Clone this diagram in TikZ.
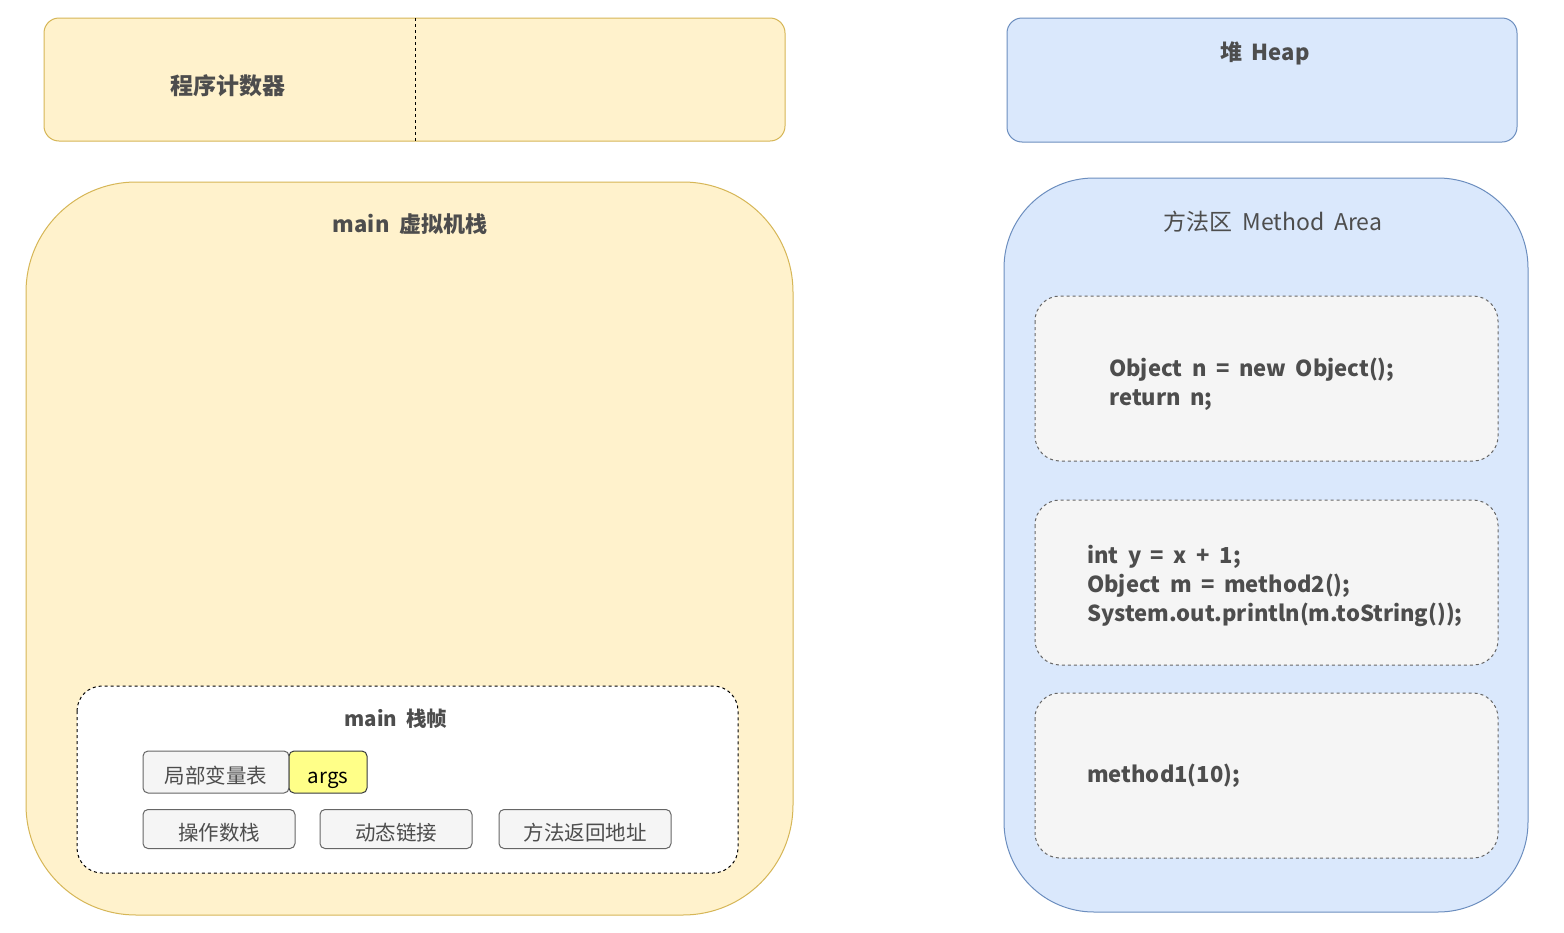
\documentclass[tikz,border=0pt]{standalone}
\usepackage{fontspec}
\setmainfont{Noto Sans CJK SC}
\newfontfamily\codefont{Noto Sans CJK SC}[WordSpace=1.9]
\usetikzlibrary{positioning}
\definecolor{ylfill}{HTML}{FFF2CC}
\definecolor{ylline}{HTML}{D6B656}
\definecolor{blfill}{HTML}{DAE8FC}
\definecolor{blline}{HTML}{6C8EBF}
\definecolor{gyfill}{HTML}{F5F5F5}
\definecolor{gyline}{HTML}{666666}
\definecolor{txt}{HTML}{4D4D4D}
\definecolor{argfill}{HTML}{FFFF88}
\definecolor{argline}{HTML}{36393D}
\tikzset{
  ybox/.style={fill=ylfill,draw=ylline,line width=1pt},
  bbox/.style={fill=blfill,draw=blline,line width=1pt},
  codebox/.style={fill=gyfill,draw=gyline,dashed,line width=1pt},
  cell/.style={fill=gyfill,draw=gyline,line width=1pt,rounded corners=5pt,inner sep=0pt,
    text=txt,font=\fontsize{20.5}{24}\selectfont,text height=24pt,text depth=1pt},
  lbl/.style={text=txt,inner sep=0pt},
  code/.style={text=txt,inner sep=0pt,align=left,font=\fontsize{22}{29}\codefont\bfseries},
}
\begin{document}
\begin{tikzpicture}[x=1pt,y=-1pt]
\useasboundingbox[fill=white] (0,0) rectangle (1564,932);
% program counter
\draw[ybox,rounded corners=15pt] (44,18) rectangle (785,141);
\coordinate (pctop) at (415,18);
\coordinate (pcbot) at (415,141);
\draw[dashed,line width=1pt] (pctop) -- (pcbot);
\node[lbl,font=\fontsize{23}{28}\selectfont\bfseries] (pc) at (228,86) {程序计数器};
% heap
\draw[bbox,rounded corners=15pt] (1007,18) rectangle (1517,142);
\node[lbl,font=\fontsize{22}{28}\codefont\bfseries] (heap) at (1265,53) {堆 Heap};
% vm stack
\draw[ybox,rounded corners=110pt] (26,182) rectangle (793,915);
\node[lbl,font=\fontsize{22}{28}\codefont\bfseries] (vms) at (410,224) {main 虚拟机栈};
% frame
\draw[fill=white,draw=black,dashed,line width=1pt,rounded corners=25pt] (77,686) rectangle (738,873);
\node[lbl,font=\fontsize{20.5}{26}\codefont\bfseries] (frame) at (396,719) {main 栈帧};
\node[cell,minimum width=146pt,minimum height=42pt] (lv) at (216,772) {局部变量表};
\node[cell,fill=argfill,draw=argline,minimum width=78pt,minimum height=42pt,text=black] (args) at (328,772) {args};
\node[cell,minimum width=152pt,minimum height=39pt] (ops) at (219,829) {操作数栈};
\node[cell,minimum width=152pt,minimum height=39pt] (dyn) at (396,829) {动态链接};
\node[cell,minimum width=172pt,minimum height=39pt] (ret) at (585,829) {方法返回地址};
% method area
\draw[bbox,rounded corners=90pt] (1004,178) rectangle (1528,912);
\node[lbl,font=\fontsize{23}{28}\codefont] (ma) at (1273,222) {方法区 Method Area};
\draw[codebox,rounded corners=25pt] (1035,296) rectangle (1498,461);
\draw[codebox,rounded corners=25pt] (1035,500) rectangle (1498,665);
\draw[codebox,rounded corners=25pt] (1035,693) rectangle (1498,858);
\node[code,anchor=west] (c1) at (1109,384) {Object n = new Object();\\return n;};
\node[code,anchor=west] (c2) at (1087,586) {int y = x + 1;\\Object m = method2();\\System.out.println(m.toString());};
\node[code,anchor=west] (c3) at (1087,776) {method1(10);};
\end{tikzpicture}
\end{document}
